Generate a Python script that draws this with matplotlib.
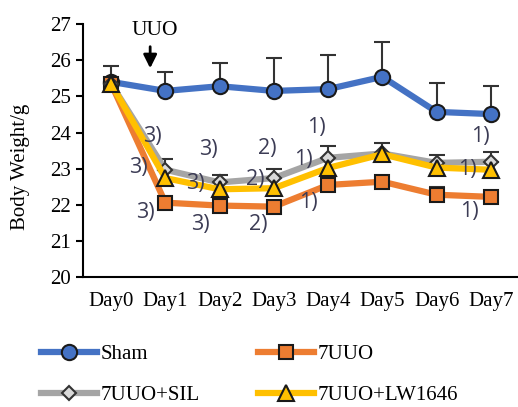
import matplotlib
matplotlib.use("Agg")
import matplotlib.pyplot as plt

# data
days = ["Day0", "Day1", "Day2", "Day3", "Day4", "Day5", "Day6", "Day7"]
sham = [25.40, 25.15, 25.28, 25.15, 25.20, 25.54, 24.57, 24.51]
sham_err = [0.44, 0.52, 0.63, 0.91, 0.94, 0.96, 0.80, 0.78]
uuo = [25.35, 22.06, 21.98, 21.95, 22.55, 22.64, 22.28, 22.22]
uuo_err = [0.0, 0.15, 0.10, 0.10, 0.0, 0.0, 0.20, 0.08]
sil = [25.35, 22.97, 22.62, 22.74, 23.30, 23.42, 23.16, 23.19]
sil_err = [0.0, 0.30, 0.20, 0.26, 0.32, 0.30, 0.22, 0.28]
lw = [25.35, 22.74, 22.43, 22.46, 23.02, 23.40, 23.03, 22.97]

# significance labels: (text, day position, weight)
marks = [
    ("3)", 0.76, 23.88), ("3)", 0.50, 23.02), ("3)", 0.63, 21.80),
    ("3)", 1.79, 23.52), ("3)", 1.55, 22.60), ("3)", 1.64, 21.45),
    ("2)", 2.87, 23.57), ("2)", 2.65, 22.69), ("2)", 2.71, 21.45),
    ("1)", 3.79, 24.15), ("1)", 3.54, 23.24), ("1)", 3.63, 22.06),
    ("1)", 6.80, 23.88), ("1)", 6.56, 22.97), ("1)", 6.61, 21.81),
]

serif = ["Liberation Serif", "DejaVu Serif"]
x = list(range(len(days)))

fig = plt.figure(figsize=(5.18, 4.07), dpi=100)
ax = fig.add_axes([0.160, 0.319, 0.84, 0.622])

lw_line = 4.5
eb = dict(fmt="none", ecolor="#333333", elinewidth=1.5, capsize=6, capthick=1.5)

ax.errorbar(x, sham, yerr=[[0] * 8, sham_err], zorder=2, **eb)
ax.plot(x, sham, color="#4472C4", lw=lw_line, marker="o", ms=11,
        mfc="#4472C4", mec="#1a1a1a", mew=1.5, label="Sham", zorder=3)
ax.errorbar(x, uuo, yerr=[[0] * 8, uuo_err], zorder=2, **eb)
ax.plot(x, uuo, color="#ED7D31", lw=lw_line, marker="s", ms=10,
        mfc="#ED7D31", mec="#1a1a1a", mew=1.5, label="7UUO", zorder=3)
ax.errorbar(x, sil, yerr=[[0] * 8, sil_err], zorder=2, **eb)
ax.plot(x, sil, color="#A5A5A5", lw=lw_line, marker="D", ms=7,
        mfc="#d9d9d9", mec="#333333", mew=1.5, label="7UUO+SIL", zorder=4)
ax.plot(x, lw, color="#FFC000", lw=lw_line, marker="^", ms=11,
        mfc="#FFC000", mec="#1a1a1a", mew=1.5, label="7UUO+LW1646", zorder=5)

for t, xd, yd in marks:
    ax.text(xd, yd, t, fontsize=15.5, color="#3c3c55", ha="center", va="center",
            family=["Open Sans", "DejaVu Sans"], zorder=6)

# UUO arrow
ax.annotate("", xy=(0.72, 25.70), xytext=(0.72, 26.45),
            arrowprops=dict(arrowstyle="-|>,head_width=0.4,head_length=0.8",
                            color="black", lw=2))
ax.text(0.80, 26.55, "UUO", fontsize=15.5, family=serif, ha="center", va="bottom")

ax.set_xlim(-0.52, 7.5)
ax.set_ylim(20, 27)
ax.set_yticks(range(20, 28))
ax.set_xticks(x)
ax.set_xticklabels(days)
for lab in ax.get_xticklabels() + ax.get_yticklabels():
    lab.set_family(serif)
    lab.set_fontsize(15)
ax.tick_params(axis="x", length=0, pad=11)
ax.tick_params(axis="y", length=5, width=1.5, direction="out")
ax.spines["top"].set_visible(False)
ax.spines["right"].set_visible(False)
ax.spines["left"].set_linewidth(1.5)
ax.spines["bottom"].set_linewidth(1.5)
ax.set_ylabel("Body Weight/g", family=serif, fontsize=15)
ax.yaxis.set_label_coords(-0.122, 0.435)

h, l = ax.get_legend_handles_labels()
order = [l.index(n) for n in ["Sham", "7UUO+SIL", "7UUO", "7UUO+LW1646"]]
leg = fig.legend([h[i] for i in order], [l[i] for i in order], ncol=2,
                 loc="upper left", bbox_to_anchor=(0.043, 0.2),
                 frameon=False, prop={"family": serif, "size": 15},
                 handlelength=2.7, handletextpad=0.15, columnspacing=2.8,
                 labelspacing=1.05)

fig.savefig("out.png", dpi=100)
